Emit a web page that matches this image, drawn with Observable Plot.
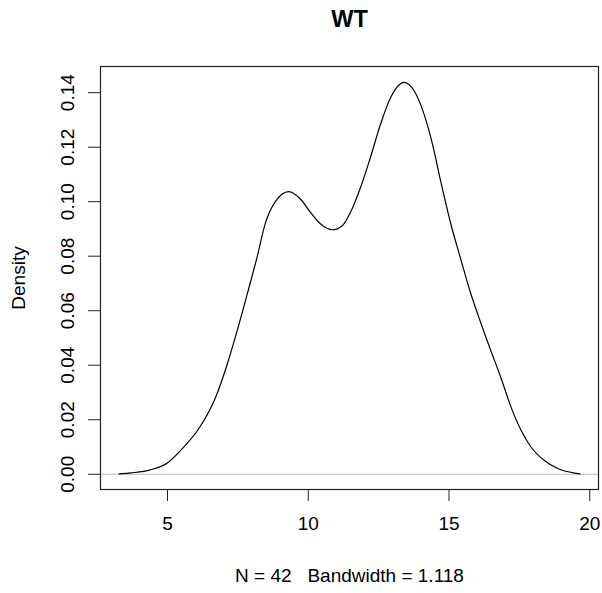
<!DOCTYPE html>
<html>
<head>
<meta charset="utf-8">
<script src="https://cdn.jsdelivr.net/npm/d3@7"></script>
<script src="https://cdn.jsdelivr.net/npm/@observablehq/plot@0.6"></script>
<style>
  html, body { margin: 0; padding: 0; background: #fff; }
  #chart svg { display: block; }
</style>
</head>
<body>
<div id="chart"></div>
<script>
const titleText = "WT";
const yLabelText = "Density";
const subText = "N = 42   Bandwidth = 1.118";
const xTicks = [5, 10, 15, 20];
const yTicks = [0, 0.02, 0.04, 0.06, 0.08, 0.10, 0.12, 0.14];
const yTickLabels = ["0.00", "0.02", "0.04", "0.06", "0.08", "0.10", "0.12", "0.14"];
const xs = [3.28, 3.71, 4.39, 4.98, 5.51, 6.16, 6.70, 7.11, 7.47, 7.83, 8.18, 8.48, 8.83, 9.31, 9.72, 10.08, 10.43, 10.85, 11.21, 11.50, 11.86, 12.21, 12.57, 12.93, 13.40, 13.76, 14.11, 14.41, 14.70, 15.06, 15.42, 15.77, 16.13, 16.48, 16.84, 17.19, 17.55, 17.91, 18.38, 18.86, 19.53, 19.65];
const dens = [0.0001, 0.0005, 0.0016, 0.0040, 0.0092, 0.0175, 0.0280, 0.0400, 0.0525, 0.0660, 0.0796, 0.0922, 0.1000, 0.1037, 0.1010, 0.0961, 0.0919, 0.0897, 0.0912, 0.0961, 0.1053, 0.1163, 0.1285, 0.1383, 0.1438, 0.1407, 0.1322, 0.1212, 0.1077, 0.0920, 0.0788, 0.0664, 0.0555, 0.0455, 0.0355, 0.0250, 0.0163, 0.0100, 0.0051, 0.0021, 0.0003, 0.0001];

const data = xs.map((x, i) => ({x, y: dens[i]}));
const yTickData = yTicks.map((v, i) => ({v, label: yTickLabels[i]}));

const font = "'Liberation Sans', Arial, sans-serif";

const chart = Plot.plot({
  width: 602,
  height: 593,
  marginLeft: 100,
  marginRight: 4,
  marginTop: 66,
  marginBottom: 104,
  style: {fontFamily: font, background: "#fff", color: "#000"},
  x: {domain: [2.62, 20.31], label: null},
  y: {domain: [-0.0056, 0.1496], label: null},
  marks: [
    Plot.ruleY([0], {stroke: "#bebebe", strokeWidth: 1}),
    Plot.line(data, {x: "x", y: "y", stroke: "#000", strokeWidth: 1.2, curve: "monotone-x"}),
    Plot.frame({stroke: "#222", strokeWidth: 1.2}),
    Plot.axisX({ticks: xTicks, tickSize: 12, tickPadding: 15, fontSize: 19, tickFormat: d => String(d), stroke: "#222", label: null}),
    Plot.axisY({ticks: yTicks, tickSize: 12, tickFormat: () => "", stroke: "#222", label: null}),
    Plot.text(yTickData, {y: "v", text: "label", frameAnchor: "left", dx: -33, rotate: -90, textAnchor: "middle", lineAnchor: "middle", fontSize: 19, fill: "#000"}),
    Plot.text([yLabelText], {frameAnchor: "left", dx: -82, rotate: -90, textAnchor: "middle", lineAnchor: "middle", fontSize: 19, fill: "#000"}),
    Plot.text([subText], {frameAnchor: "bottom", dy: 86, textAnchor: "middle", lineAnchor: "middle", fontSize: 19, fill: "#000"}),
    Plot.text([titleText], {frameAnchor: "top", dy: -47, textAnchor: "middle", lineAnchor: "middle", fontSize: 23.5, fontWeight: "bold", fill: "#000"})
  ]
});
document.getElementById("chart").appendChild(chart);
</script>
</body>
</html>
